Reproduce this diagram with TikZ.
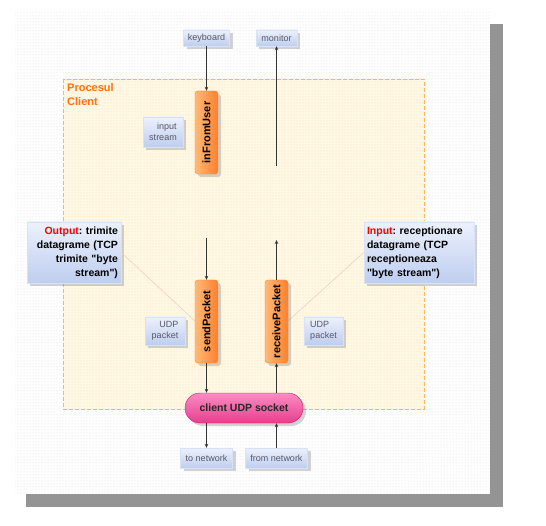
\documentclass[tikz,border=0pt]{standalone}
\usepackage{fontspec}
\setmainfont{Liberation Sans}[Ligatures=TeXOff]
\usepackage{graphicx}
\usetikzlibrary{arrows.meta,shadows,patterns}
\frenchspacing

\definecolor{iobluetop}{RGB}{236,241,252}
\definecolor{ioblue}{RGB}{190,206,240}
\definecolor{procorange}{RGB}{255,112,16}
\definecolor{boxedge}{RGB}{255,184,80}
\definecolor{cream}{RGB}{255,248,228}
\definecolor{orlight}{RGB}{255,186,120}
\definecolor{ordark}{RGB}{255,128,44}
\definecolor{pinklight}{RGB}{250,140,195}
\definecolor{pinkdark}{RGB}{232,62,140}
\definecolor{pinkedge}{RGB}{196,30,106}
\definecolor{labelgray}{RGB}{88,88,100}
\definecolor{calloutline}{RGB}{238,208,196}

\tikzset{
  iobox/.style={top color=iobluetop, bottom color=ioblue, draw=ioblue!60,
    inner sep=2pt, text=labelgray, font=\fontsize{9}{11.5}\selectfont,
    drop shadow={shadow xshift=3pt, shadow yshift=-3pt, opacity=0.35}},
  notebox/.style={iobox, text=black, font=\fontsize{10.5}{14}\selectfont\bfseries,
    inner xsep=3pt, minimum height=61pt},
  streambox/.style={left color=orlight, right color=ordark, draw=ordark,
    rounded corners=3pt, minimum width=23pt, minimum height=83pt, inner sep=0pt,
    font=\fontsize{11}{13}\selectfont\bfseries,
    drop shadow={shadow xshift=3pt, shadow yshift=-3pt, opacity=0.35}},
  sockbox/.style={top color=pinklight, bottom color=pinkdark, draw=pinkedge,
    rounded corners=15pt, minimum width=118pt, minimum height=30pt,
    text=black!85, font=\fontsize{10.5}{13}\selectfont\bfseries,
    drop shadow={shadow xshift=3pt, shadow yshift=-3pt, opacity=0.35}},
  flow/.style={-{Stealth[length=4pt,width=3.5pt]}, line width=0.8pt, draw=black!80},
  callout/.style={draw=calloutline, line width=0.6pt}
}

\begin{document}
\begin{tikzpicture}[x=1pt,y=-1pt]
\useasboundingbox (0,0) rectangle (546,526);

% frame and shadow
\fill [black!42] (26,24) rectangle (503,507);
\fill [white] (15,13) rectangle (490,494);
\fill [pattern=dots, pattern color=black!14] (15,13) rectangle (490,494);

% process box
\fill [cream] (63,79) rectangle (424,409);
\fill [pattern=dots, pattern color=orange!30] (63,79) rectangle (424,409);
\draw [boxedge, dash pattern=on 4pt off 2pt, line width=0.6pt] (63,79) rectangle (424,409);
\node (proc) at (67,83) [anchor=north west, align=left, inner sep=0pt, text=procorange,
  font=\fontsize{11}{14}\selectfont\bfseries]{Procesul\\Client};

% callout lines
\coordinate (outTip) at (195,321);
\coordinate (inTip) at (288,321);

\node (Output) at (74,252.5) [notebox, text width=88pt, align=right]
  {\textcolor{red}{Output}: trimite\\datagrame (TCP\\trimite "byte\\stream")};
\node (Input) at (419,252.5) [notebox, text width=104pt, align=left]
  {\textcolor{red}{Input}: receptionare\\datagrame (TCP\\receptioneaza\\"byte stream")};

\draw [callout] (Output.east) -- (outTip);
\draw [callout] (Input.west) -- (inTip);

% io labels
\node (keyboard) at (206.5,38) [iobox, minimum width=46pt, minimum height=16pt]{keyboard};
\node (monitor) at (276.5,38) [iobox, minimum width=41pt, minimum height=16pt]{monitor};
\node (instream) at (163,132) [iobox, minimum width=40pt, minimum height=30pt, align=right]{input\\stream};
\node (udpOut) at (165,331) [iobox, minimum width=40pt, minimum height=28pt, align=right]{UDP\\packet};
\node (udpIn) at (323.5,331) [iobox, minimum width=39pt, minimum height=28pt, align=left]{UDP\\packet};
\node (tonet) at (206.5,458) [iobox, minimum width=52pt, minimum height=20pt]{to network};
\node (fromnet) at (276.5,458) [iobox, minimum width=62pt, minimum height=20pt]{from network};

% streams
\node (inFromUser) at (206.5,132.5) [streambox]{\rotatebox{90}{inFromUser}};
\node (sendPacket) at (206.5,321.5) [streambox]{\rotatebox{90}{sendPacket}};
\node (receivePacket) at (276.5,321.5) [streambox]{\rotatebox{90}{receivePacket}};

\node (socket) at (244,408) [sockbox]{client UDP socket};

\coordinate (monSrc) at (276.5,166);
\coordinate (sendSrc) at (206.5,238);
\coordinate (recvDst) at (276.5,240);

\draw [flow] (keyboard.south) -- (inFromUser.north);
\draw [flow] (monSrc) -- (monitor.south);

\draw [flow] (sendSrc) -- (sendPacket.north);
\draw [flow] (sendPacket.south) -- (sendPacket.south |- socket.north);
\draw [flow] (sendPacket.south |- socket.south) -- (tonet.north);

\draw [flow] (fromnet.north) -- (receivePacket.south |- socket.south);
\draw [flow] (receivePacket.south |- socket.north) -- (receivePacket.south);
\draw [flow] (receivePacket.north) -- (recvDst);

\end{tikzpicture}
\end{document}
